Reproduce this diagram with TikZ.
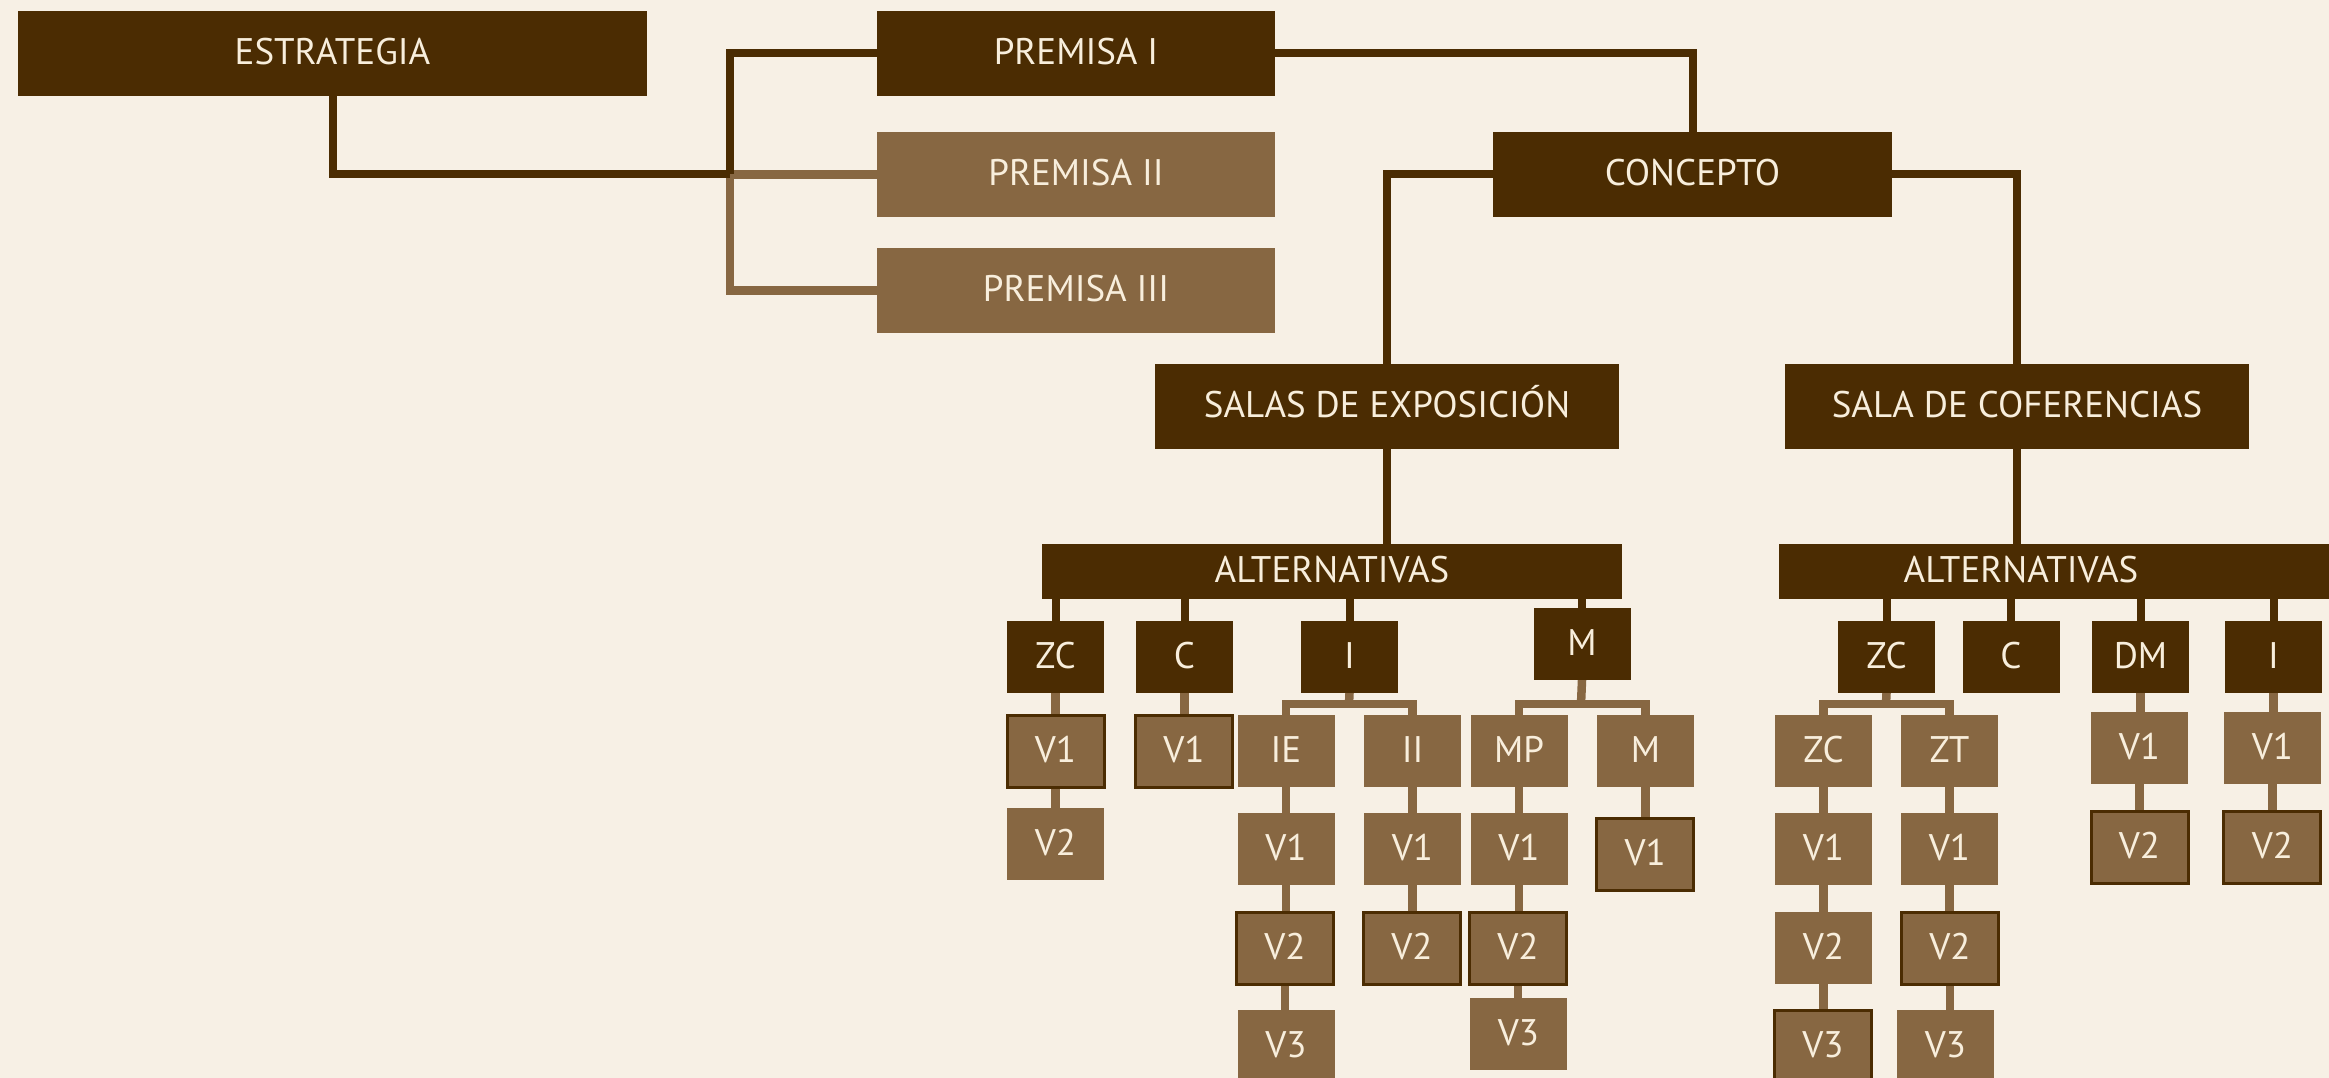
\documentclass[tikz,border=0pt]{standalone}
\usepackage{fontspec}
\setmainfont{PT Sans}
\definecolor{bg}{HTML}{F7F0E5}
\definecolor{dk}{HTML}{4B2C02}
\definecolor{lt}{HTML}{876742}
\definecolor{tx}{HTML}{F8EEDC}
\pgfdeclarelayer{bgl}
\pgfdeclarelayer{conn}
\pgfsetlayers{bgl,conn,main}
\tikzset{
  box/.style={rectangle, inner sep=0pt, outer sep=0pt, text=tx,
    font=\fontsize{37}{37}\selectfont, text height=26pt, text depth=4pt},
  dbox/.style={box, fill=dk},
  lbox/.style={box, fill=lt},
  bbox/.style={lbox, draw=dk, line width=3pt},
  sq/.style={minimum width=97pt, minimum height=72pt},
  wd/.style 2 args={minimum width=#1pt, minimum height=#2pt},
  dkl/.style={draw=dk, line width=8pt},
  ltl/.style={draw=lt, line width=8.5pt}
}
\begin{document}
\begin{tikzpicture}[x=1pt, y={(0pt,-1pt)}]
\useasboundingbox (0,0) rectangle (2329,1078);
\clip (0,0) rectangle (2329,1078);
\begin{pgfonlayer}{bgl}
\fill[bg] (0,0) rectangle (2329,1078);
\end{pgfonlayer}
% top level
\node[dbox, wd={629}{85}] (estr) at (332.5,53.5) {ESTRATEGIA};
\node[dbox, wd={398}{85}] (p1) at (1076,53.5) {PREMISA I};
\node[lbox, wd={398}{85}] (p2) at (1076,174.5) {PREMISA II};
\node[lbox, wd={398}{85}] (p3) at (1076,290.5) {PREMISA III};
\node[dbox, wd={399}{85}] (conc) at (1692.5,174.5) {CONCEPTO};
\node[dbox, wd={464}{85}] (salas) at (1387,406.5) {SALAS DE EXPOSICIÓN};
\node[dbox, wd={464}{85}] (sconf) at (2017,406.5) {SALA DE COFERENCIAS};
\node[dbox, wd={580}{55}] (alt1) at (1332,571.5) {ALTERNATIVAS};
\node[dbox, wd={561}{55}] (alt2) at (2059.5,571.5) {};
\node[box] (alt2t) at (2021,571.5) {ALTERNATIVAS};
% row 1
\node[dbox, sq] (a1zc) at (1055.5,657) {ZC};
\node[dbox, sq] (a1c) at (1184.5,657) {C};
\node[dbox, sq] (a1i) at (1349.5,657) {I};
\node[dbox, sq] (a1m) at (1582,644) {M};
\node[dbox, sq] (a2zc) at (1886.5,657) {ZC};
\node[dbox, sq] (a2c) at (2011,657) {C};
\node[dbox, sq] (a2dm) at (2140.5,657) {DM};
\node[dbox, sq] (a2i) at (2273.5,657) {I};
% row 2
\node[bbox, sq] (zc1v1) at (1055.5,751) {V1};
\node[bbox, sq] (c1v1) at (1184,751) {V1};
\node[lbox, sq] (ie) at (1286,751) {IE};
\node[lbox, sq] (ii) at (1412.5,751) {II};
\node[lbox, sq] (mp) at (1519,751) {MP};
\node[lbox, sq] (mm) at (1645.5,751) {M};
\node[lbox, sq] (zc2) at (1823.5,751) {ZC};
\node[lbox, sq] (zt) at (1949.5,751) {ZT};
\node[lbox, sq] (dmv1) at (2139.5,748) {V1};
\node[lbox, sq] (i2v1) at (2272.5,748) {V1};
% row 3
\node[lbox, sq] (zc1v2) at (1055.5,844) {V2};
\node[lbox, sq] (iev1) at (1286,849) {V1};
\node[lbox, sq] (iiv1) at (1412.5,849) {V1};
\node[lbox, sq] (mpv1) at (1519,849) {V1};
\node[bbox, sq] (mmv1) at (1645.3,854) {V1};
\node[lbox, sq] (zc2v1) at (1823.5,849) {V1};
\node[lbox, sq] (ztv1) at (1949.5,849) {V1};
\node[bbox, sq] (dmv2) at (2139.5,847) {V2};
\node[bbox, sq] (i2v2) at (2272.4,847) {V2};
% row 4
\node[bbox, sq] (iev2) at (1285,948) {V2};
\node[bbox, sq] (iiv2) at (1412,948) {V2};
\node[bbox, sq] (mpv2) at (1518,948) {V2};
\node[lbox, sq] (zc2v2) at (1823.5,948) {V2};
\node[bbox, sq] (ztv2) at (1950,948) {V2};
% row 5
\node[lbox, sq] (iev3) at (1286,1046) {V3};
\node[lbox, sq] (mpv3) at (1518.5,1034) {V3};
\node[bbox, sq] (zc2v3) at (1823,1046) {V3};
\node[lbox, sq] (ztv3) at (1945.5,1046) {V3};
% junctions
\coordinate (jL) at (730,174.5);
\coordinate (ib) at (1349,704);
\coordinate (mb) at (1581,704);
\coordinate (zb) at (1886,704);
\begin{pgfonlayer}{conn}
% upper connectors
\draw[ltl] (jL) -- (p2.west);
\draw[ltl] (jL) |- (p3.west);
\draw[dkl] (estr.south) |- (jL);
\draw[dkl] (p1.west) -| (jL);
\draw[dkl] (p1.east) -| (conc.north);
\draw[dkl] (conc.west) -| (salas.north);
\draw[dkl] (conc.east) -| (sconf.north);
\draw[dkl] (salas.south) -- (salas.south |- alt1.north);
\draw[dkl] (sconf.south) -- (sconf.south |- alt2.north);
% alternatives to options
\foreach \n in {a1zc,a1c,a1i,a1m}{\draw[dkl] (\n.north) -- (\n.north |- alt1.south);}
\foreach \n in {a2zc,a2c,a2dm,a2i}{\draw[dkl] (\n.north) -- (\n.north |- alt2.south);}
% light connectors
\foreach \a/\b in {a1zc/zc1v1, zc1v1/zc1v2, a1c/c1v1, ie/iev1, iev1/iev2, iev2/iev3,
    ii/iiv1, iiv1/iiv2, mp/mpv1, mpv1/mpv2, mpv2/mpv3, mm/mmv1,
    zc2/zc2v1, zc2v1/zc2v2, zc2v2/zc2v3, zt/ztv1, ztv1/ztv2, ztv2/ztv3,
    a2dm/dmv1, dmv1/dmv2, a2i/i2v1, i2v1/i2v2}
  {\draw[ltl] (\a.south) -- (\a.south |- \b.north);}
\draw[ltl] (a1i.south) -- (ib);
\draw[ltl] (ie.north) |- (ib) -| (ii.north);
\draw[ltl] (a1m.south) -- (mb);
\draw[ltl] (mp.north) |- (mb) -| (mm.north);
\draw[ltl] (a2zc.south) -- (zb);
\draw[ltl] (zc2.north) |- (zb) -| (zt.north);
\end{pgfonlayer}
\end{tikzpicture}
\end{document}
